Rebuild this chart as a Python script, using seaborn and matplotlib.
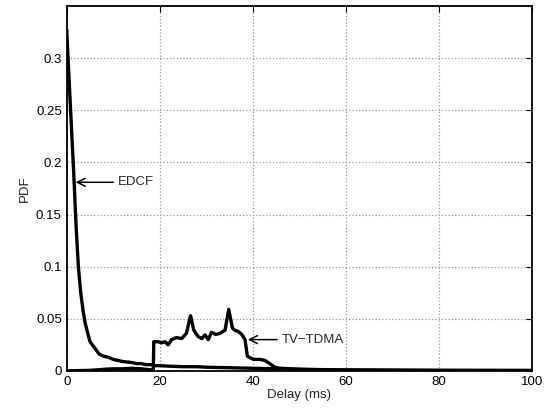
import numpy as np
import pandas as pd
import seaborn as sns
import matplotlib
matplotlib.use("Agg")
import matplotlib.pyplot as plt

# EDCF delay pdf
edcf_delay = [0, 0.5, 1, 1.5, 2, 2.5, 3, 3.5, 4, 5, 6, 7, 8, 9, 10, 11, 12, 13, 14, 15, 16,
              17, 18, 19, 20, 22, 25, 28, 30, 35, 40, 45, 50, 55, 60, 70, 80, 90, 100]
edcf_pdf = [0.327, 0.28, 0.235, 0.19, 0.14, 0.10, 0.075, 0.058, 0.045, 0.028, 0.022, 0.016,
            0.014, 0.013, 0.011, 0.010, 0.009, 0.0085, 0.008, 0.007, 0.007, 0.006, 0.006,
            0.005, 0.005, 0.0045, 0.004, 0.004, 0.0035, 0.003, 0.0025, 0.002, 0.0015,
            0.0012, 0.001, 0.0008, 0.0006, 0.0005, 0.0004]

# TV-TDMA delay pdf
tdma_delay = [0, 5, 8, 10, 12, 14, 16, 18, 18.6, 18.7, 19.6, 20.4, 21.1, 21.8, 22.5, 23.6,
              24.7, 25.7, 26.6, 27.3, 28.2, 29.0, 29.7, 30.4, 31.1, 32.0, 32.9, 34.0, 34.8,
              35.6, 36.1, 36.8, 37.6, 38.3, 38.8, 40.1, 41.5, 42.6, 43.7, 44.7, 45.8, 48,
              50, 55, 60, 70, 80, 90, 100]
tdma_pdf = [0.0, 0.0005, 0.0015, 0.002, 0.002, 0.0025, 0.002, 0.001, 0.001, 0.028, 0.028,
            0.027, 0.028, 0.025, 0.030, 0.032, 0.031, 0.036, 0.053, 0.039, 0.033, 0.031,
            0.0346, 0.030, 0.037, 0.035, 0.036, 0.039, 0.059, 0.041, 0.039, 0.038, 0.035,
            0.030, 0.014, 0.011, 0.011, 0.010, 0.0067, 0.0035, 0.0025, 0.002, 0.0015,
            0.001, 0.0006, 0.0004, 0.0003, 0.0003, 0.0003]

sns.set_style("white")
plt.rcParams['font.family'] = ['Liberation Sans', 'DejaVu Sans']

fig = plt.figure(figsize=(5.47, 4.13), dpi=100)
ax = fig.add_axes([0.122, 0.102, 0.851, 0.883])

df = pd.concat([
    pd.DataFrame({'delay': edcf_delay, 'pdf': edcf_pdf, 'scheme': 'EDCF'}),
    pd.DataFrame({'delay': tdma_delay, 'pdf': tdma_pdf, 'scheme': 'TV-TDMA'}),
])
sns.lineplot(data=df, x='delay', y='pdf', units='scheme', estimator=None,
             color='black', linewidth=2.4, sort=False, ax=ax, legend=False)

ax.set_xlim(0, 100)
ax.set_ylim(0, 0.35)
ax.set_xticks([0, 20, 40, 60, 80, 100])
ax.set_yticks([0, 0.05, 0.1, 0.15, 0.2, 0.25, 0.3])
ax.set_yticklabels(['0', '0.05', '0.1', '0.15', '0.2', '0.25', '0.3'])
ax.tick_params(direction='in', labelsize=9.5, top=True, right=True, length=4, colors='black')
ax.grid(True, linestyle=':', color='#999999', linewidth=0.9)
for s in ax.spines.values():
    s.set_color('black')
    s.set_linewidth(1.3)
ax.set_xlabel('Delay (ms)', fontsize=9.5, labelpad=1)
ax.set_ylabel('PDF', fontsize=9.5, labelpad=4)

arrow = dict(arrowstyle='->,head_length=0.6,head_width=0.3', color='black', lw=1.1,
             shrinkA=1, shrinkB=0)
ax.annotate('EDCF', xy=(1.9, 0.181), xytext=(11.0, 0.181), fontsize=9.5, va='center',
            arrowprops=arrow)
ax.annotate('TV\u2212TDMA', xy=(38.9, 0.030), xytext=(46.2, 0.030), fontsize=9.5, va='center',
            arrowprops=arrow)

fig.savefig('out.png', dpi=100)
